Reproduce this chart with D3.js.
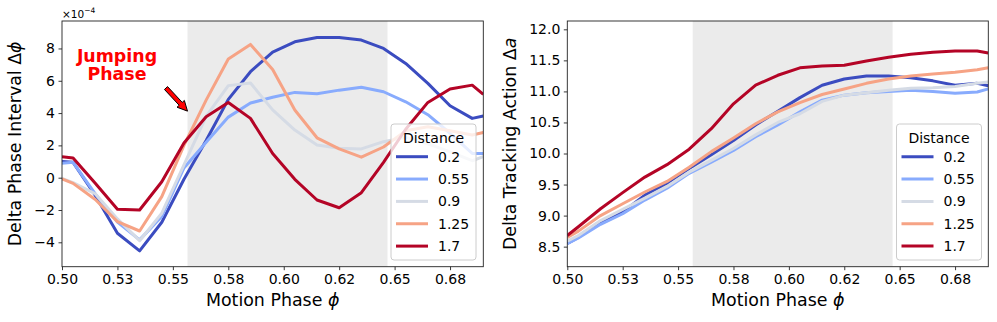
<!DOCTYPE html>
<html>
<head>
<meta charset="utf-8">
<script src="https://cdn.jsdelivr.net/npm/d3@7"></script>
<style>
  body { margin: 0; background: #fff; }
  svg { display: block; font-family: "DejaVu Sans", sans-serif; }
</style>
</head>
<body>
<svg id="chart" width="997" height="322"></svg>
<script>
// ---------- data ----------
const phase = [0.50, 0.505, 0.515, 0.525, 0.535, 0.545, 0.555, 0.565, 0.575, 0.585, 0.595,
               0.605, 0.615, 0.625, 0.635, 0.645, 0.655, 0.665, 0.675, 0.685, 0.69];
const distances = ["0.2", "0.55", "0.9", "1.25", "1.7"];

// Delta phase interval (x 1e-4)
const dPhi_02  = [1.0, 0.95, -1.1, -3.44, -4.53, -2.76, -0.1, 2.3, 4.85, 6.56, 7.78, 8.41, 8.68, 8.68, 8.52, 8.0, 7.07, 5.84, 4.45, 3.67, 3.82];
const dPhi_055 = [0.9, 0.95, -1.0, -2.75, -3.85, -2.4, 0.6, 2.2, 3.75, 4.62, 4.98, 5.28, 5.2, 5.42, 5.6, 5.32, 4.7, 3.9, 2.75, 1.5, 1.5];
const dPhi_09  = [-0.05, -0.3, -1.0, -2.55, -3.9, -2.2, 0.8, 3.8, 5.7, 5.86, 4.2, 2.95, 2.02, 1.82, 1.78, 2.23, 2.5, 2.1, 1.6, 1.05, 1.3];
const dPhi_125 = [-0.08, -0.35, -1.35, -2.72, -3.3, -1.17, 2.0, 4.8, 7.35, 8.25, 6.7, 4.19, 2.47, 1.78, 1.27, 1.9, 2.9, 3.15, 2.9, 2.64, 2.8];
const dPhi_17  = [1.30, 1.22, -0.35, -1.95, -2.0, -0.25, 2.15, 3.77, 4.66, 3.67, 1.5, -0.1, -1.38, -1.86, -0.93, 0.95, 3.0, 4.66, 5.49, 5.73, 5.16];

// Delta tracking action
const dAct_02  = [8.55, 8.65, 8.88, 9.06, 9.33, 9.52, 9.76, 9.98, 10.21, 10.46, 10.68, 10.90, 11.10, 11.20, 11.25, 11.25, 11.22, 11.17, 11.10, 11.13, 11.09];
const dAct_055 = [8.55, 8.64, 8.86, 9.03, 9.25, 9.44, 9.68, 9.86, 10.05, 10.27, 10.46, 10.67, 10.86, 10.94, 10.98, 11.0, 11.02, 11.0, 10.97, 10.99, 11.04];
const dAct_09  = [8.59, 8.68, 8.92, 9.10, 9.28, 9.47, 9.70, 9.89, 10.08, 10.30, 10.50, 10.64, 10.84, 10.94, 10.98, 11.02, 11.05, 11.06, 11.08, 11.13, 11.15];
const dAct_125 = [8.65, 8.75, 9.0, 9.19, 9.38, 9.55, 9.78, 10.03, 10.25, 10.48, 10.67, 10.82, 10.95, 11.04, 11.13, 11.20, 11.25, 11.28, 11.31, 11.35, 11.38];
const dAct_17  = [8.68, 8.82, 9.11, 9.37, 9.62, 9.82, 10.07, 10.40, 10.80, 11.10, 11.26, 11.38, 11.41, 11.42, 11.49, 11.55, 11.60, 11.63, 11.65, 11.65, 11.62];

const xTickValues = [0.500, 0.525, 0.550, 0.575, 0.600, 0.625, 0.650, 0.675];
const xTickLabels = ["0.50", "0.53", "0.55", "0.58", "0.60", "0.62", "0.65", "0.68"];
const yTicksLeft = [-4, -2, 0, 2, 4, 6, 8];
const yTicksRight = [8.5, 9.0, 9.5, 10.0, 10.5, 11.0, 11.5, 12.0];
const shadeRange = [0.5566, 0.6468];
const annotText = ["Jumping", "Phase"];
const annotTextPos = [0.5248, 7.17];
const arrowTail = [0.5469, 5.55];
const arrowTip = [0.5566, 4.12];

// ---------- style ----------
const colors = ["#3b4cc0", "#88abfd", "#d5dbe5", "#f6a385", "#b40426"];
const svg = d3.select("#chart");
const FONT = "DejaVu Sans";

function drawPanel(opts) {
  const { x0, x1, y0, y1, yDomain, series, yTicks, yFmt, yLabel, legendX, clipId } = opts;
  const x = d3.scaleLinear().domain([0.5, 0.69]).range([x0, x1]);
  const y = d3.scaleLinear().domain(yDomain).range([y1, y0]);
  const g = svg.append("g");

  g.append("clipPath").attr("id", clipId)
    .append("rect").attr("x", x0).attr("y", y0).attr("width", x1 - x0).attr("height", y1 - y0);

  // shaded phase
  g.append("rect")
    .attr("x", x(shadeRange[0])).attr("y", y0)
    .attr("width", x(shadeRange[1]) - x(shadeRange[0])).attr("height", y1 - y0)
    .attr("fill", "#ebebeb");

  // lines
  const line = d3.line().x((d, i) => x(phase[i])).y(d => y(d));
  const lg = g.append("g").attr("clip-path", `url(#${clipId})`);
  series.forEach((s, k) => {
    lg.append("path").attr("d", line(s))
      .attr("fill", "none").attr("stroke", colors[k]).attr("stroke-width", 3)
      .attr("stroke-linejoin", "round").attr("stroke-linecap", "butt");
  });

  // axes
  const ax = g.append("g").attr("transform", `translate(0,${y1})`)
    .call(d3.axisBottom(x).tickValues(xTickValues).tickFormat((d, i) => xTickLabels[i])
      .tickSizeInner(3.5).tickSizeOuter(0).tickPadding(3.5));
  const ay = g.append("g").attr("transform", `translate(${x0},0)`)
    .call(d3.axisLeft(y).tickValues(yTicks).tickFormat(yFmt)
      .tickSizeInner(3.5).tickSizeOuter(0).tickPadding(3.5));
  [ax, ay].forEach(a => {
    a.select(".domain").remove();
    a.selectAll("line").attr("stroke", "#222").attr("stroke-width", 0.9);
    a.selectAll("text").attr("font-family", FONT).attr("font-size", 14).attr("fill", "#000");
  });

  // spines
  g.append("rect").attr("x", x0).attr("y", y0).attr("width", x1 - x0).attr("height", y1 - y0)
    .attr("fill", "none").attr("stroke", "#222").attr("stroke-width", 0.9);

  // axis labels
  const xl = g.append("text").attr("x", (x0 + x1) / 2).attr("y", 306)
    .attr("text-anchor", "middle").attr("font-size", 17.4).attr("font-family", FONT);
  xl.append("tspan").text("Motion Phase ");
  xl.append("tspan").attr("font-style", "italic").text("ϕ");

  const yl = g.append("text")
    .attr("transform", `translate(${opts.yLabelX},${(y0 + y1) / 2}) rotate(-90)`)
    .attr("text-anchor", "middle").attr("font-size", 17.4).attr("font-family", FONT);
  yl.append("tspan").text(yLabel[0]);
  yl.append("tspan").attr("font-style", "italic").text(yLabel[1]);

  // legend
  const lx = legendX, ly = 124, lw = 85, lh = 136;
  const leg = g.append("g");
  leg.append("rect").attr("x", lx).attr("y", ly).attr("width", lw).attr("height", lh)
    .attr("rx", 3).attr("fill", "#fff").attr("fill-opacity", 0.8)
    .attr("stroke", "#cccccc").attr("stroke-width", 1);
  leg.append("text").attr("x", lx + lw / 2).attr("y", ly + 19)
    .attr("text-anchor", "middle").attr("font-size", 14).attr("font-family", FONT).text("Distance");
  distances.forEach((d, k) => {
    const cy = ly + 32.7 + k * 22.35;
    leg.append("line").attr("x1", lx + 5).attr("x2", lx + 37).attr("y1", cy).attr("y2", cy)
      .attr("stroke", colors[k]).attr("stroke-width", 3);
    leg.append("text").attr("x", lx + 47).attr("y", cy + 5)
      .attr("font-size", 14).attr("font-family", FONT).text(d);
  });
  return { x, y, g };
}

const left = drawPanel({
  x0: 62, x1: 483.3, y0: 21, y1: 266.7, yDomain: [-5.51, 9.70],
  series: [dPhi_02, dPhi_055, dPhi_09, dPhi_125, dPhi_17],
  yTicks: yTicksLeft, yFmt: d => d < 0 ? "\u2212" + Math.abs(d) : String(d),
  yLabel: ["Delta Phase Interval \u0394", "ϕ"], yLabelX: 21, legendX: 391, clipId: "clipL"
});

const right = drawPanel({
  x0: 567.3, x1: 988.3, y0: 21, y1: 266.7, yDomain: [8.177, 12.134],
  series: [dAct_02, dAct_055, dAct_09, dAct_125, dAct_17],
  yTicks: yTicksRight, yFmt: d => d.toFixed(1),
  yLabel: ["Delta Tracking Action \u0394", "a"], yLabelX: 515.5, legendX: 896.5, clipId: "clipR"
});

// offset text
const off = svg.append("text").attr("x", 62).attr("y", 18.3)
  .attr("font-size", 10.5).attr("font-family", FONT);
off.append("tspan").text("\u00d710");
off.append("tspan").attr("dy", -5).attr("font-size", 7.5).text("\u22124");

// annotation text
const tx = left.x(annotTextPos[0]), ty = left.y(annotTextPos[1]);
const at = left.g.append("text").attr("x", tx).attr("y", ty)
  .attr("text-anchor", "middle").attr("font-size", 17.4).attr("font-weight", "bold")
  .attr("fill", "#ff0000").attr("font-family", FONT);
at.append("tspan").attr("x", tx).text(annotText[0]);
at.append("tspan").attr("x", tx).attr("dy", 18.5).text(annotText[1]);

// arrow
(function () {
  const p0 = [left.x(arrowTail[0]), left.y(arrowTail[1])];
  const p1 = [left.x(arrowTip[0]), left.y(arrowTip[1])];
  const dx = p1[0] - p0[0], dy = p1[1] - p0[1];
  const L = Math.hypot(dx, dy);
  const ux = dx / L, uy = dy / L, nx = -uy, ny = ux;
  const hw = 2.1, headW = 5, headL = 10;
  const bx = p1[0] - ux * headL, by = p1[1] - uy * headL;
  const pts = [
    [p0[0] + nx * hw, p0[1] + ny * hw],
    [bx + nx * hw, by + ny * hw],
    [bx + nx * headW, by + ny * headW],
    p1,
    [bx - nx * headW, by - ny * headW],
    [bx - nx * hw, by - ny * hw],
    [p0[0] - nx * hw, p0[1] - ny * hw]
  ];
  left.g.append("path").attr("d", "M" + pts.map(p => p.join(",")).join("L") + "Z")
    .attr("fill", "#ff0000").attr("stroke", "#000").attr("stroke-width", 1)
    .attr("stroke-linejoin", "miter");
})();
</script>
</body>
</html>
